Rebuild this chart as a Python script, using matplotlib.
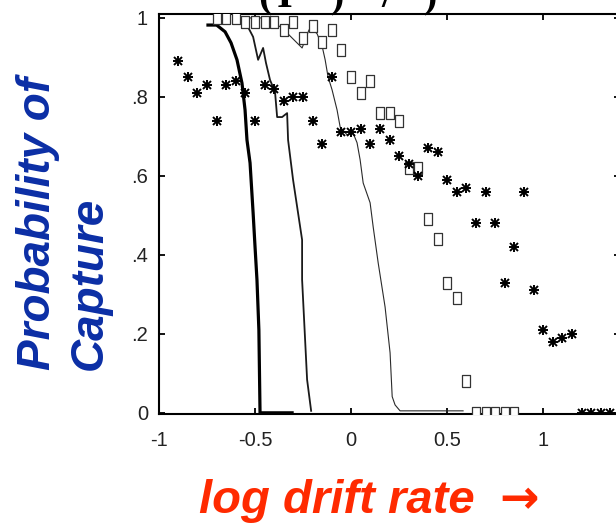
import numpy as np
import matplotlib
matplotlib.use("Agg")
import matplotlib.pyplot as plt

# capture probability vs log drift rate
ast_x = [-0.90, -0.85, -0.80, -0.75, -0.70, -0.65, -0.60, -0.55, -0.50, -0.45,
         -0.40, -0.35, -0.30, -0.25, -0.20, -0.15, -0.10, -0.05, 0.00, 0.05,
         0.10, 0.15, 0.20, 0.25, 0.30, 0.35, 0.40, 0.45, 0.50, 0.55,
         0.60, 0.65, 0.70, 0.75, 0.80, 0.85, 0.90, 0.95, 1.00, 1.05,
         1.10, 1.15, 1.20, 1.25, 1.30, 1.35]
ast_y = [0.89, 0.85, 0.81, 0.83, 0.74, 0.83, 0.84, 0.81, 0.74, 0.83,
         0.82, 0.79, 0.80, 0.80, 0.74, 0.68, 0.85, 0.71, 0.71, 0.72,
         0.68, 0.72, 0.69, 0.65, 0.63, 0.60, 0.67, 0.66, 0.59, 0.56,
         0.57, 0.48, 0.56, 0.48, 0.33, 0.42, 0.56, 0.31, 0.21, 0.18,
         0.19, 0.20, 0.0, 0.0, 0.0, 0.0]

sq_x = [-0.70, -0.65, -0.60, -0.55, -0.50, -0.45, -0.40, -0.35, -0.30, -0.25,
        -0.20, -0.15, -0.10, -0.05, 0.00, 0.05, 0.10, 0.15, 0.20, 0.25,
        0.30, 0.35, 0.40, 0.45, 0.50, 0.55, 0.60, 0.65, 0.70, 0.75,
        0.80, 0.85]
sq_y = [1.0, 1.0, 1.0, 0.99, 0.99, 0.99, 0.99, 0.97, 0.99, 0.95,
        0.98, 0.94, 0.97, 0.92, 0.85, 0.81, 0.84, 0.76, 0.76, 0.74,
        0.62, 0.62, 0.49, 0.44, 0.33, 0.29, 0.08, 0.0, 0.0, 0.0,
        0.0, 0.0]

# model curves
thick_x = [-0.745, -0.70, -0.656, -0.625, -0.594, -0.568, -0.552, -0.542,
           -0.526, -0.51, -0.50, -0.49, -0.48, -0.474, -0.307]
thick_y = [0.982, 0.982, 0.965, 0.937, 0.894, 0.835, 0.767, 0.691,
           0.633, 0.506, 0.420, 0.337, 0.21, 0.0, 0.0]

mid_x = [-0.57, -0.542, -0.51, -0.484, -0.458, -0.443, -0.422, -0.396, -0.385,
         -0.359, -0.333, -0.328, -0.302, -0.276, -0.255, -0.255, -0.229, -0.208]
mid_y = [1.0, 0.982, 0.952, 0.894, 0.924, 0.886, 0.843, 0.813, 0.749,
         0.749, 0.759, 0.691, 0.59, 0.506, 0.438, 0.337, 0.084, 0.005]

thin_x = [-0.58, -0.432, -0.354, -0.255, -0.219, -0.198, -0.177, -0.151, -0.135,
          -0.12, -0.099, -0.073, -0.057, -0.021, 0.010, 0.031, 0.047, 0.063,
          0.099, 0.115, 0.141, 0.177, 0.203, 0.214, 0.229, 0.255, 0.583]
thin_y = [1.0, 1.0, 0.972, 0.924, 0.970, 0.970, 0.960, 0.929, 0.894,
          0.851, 0.818, 0.767, 0.724, 0.704, 0.709, 0.684, 0.641, 0.582,
          0.532, 0.471, 0.380, 0.268, 0.152, 0.041, 0.020, 0.005, 0.005]

xticks = [-1, -0.5, 0, 0.5, 1]
xtick_labels = ['-1', '-0.5', '0', '0.5', '1']
yticks = [0, 0.2, 0.4, 0.6, 0.8, 1.0]
ytick_labels = ['0', '.2', '.4', '.6', '.8', '1']

W, H = 616, 526
fig = plt.figure(figsize=(W / 100, H / 100), dpi=100)
ax = fig.add_axes([159 / W, 112 / H, 461 / W, 400 / H])

ax.plot(thick_x, thick_y, color='black', lw=2.3, solid_joinstyle='round')
ax.plot(mid_x, mid_y, color='#1a1a1a', lw=1.3)
ax.plot(thin_x, thin_y, color='#2a2a2a', lw=0.8)

box = [(-0.4, -0.5), (0.4, -0.5), (0.4, 0.5), (-0.4, 0.5), (-0.4, -0.5)]
ax.plot(sq_x, sq_y, ls='none', marker=box, ms=8, mfc='white',
        mec='#333333', mew=0.9, zorder=3)
# asterisks: plus and cross laid over each other
ax.plot(ast_x, ast_y, ls='none', marker='+', ms=7, color='black',
        mew=1.4, zorder=4)
ax.plot(ast_x, ast_y, ls='none', marker='x', ms=5.5, color='black',
        mew=1.4, zorder=4)

ax.set_xlim(-1, 1.4)
ax.set_ylim(-0.003, 1.01)
ax.set_xticks(xticks)
ax.set_xticklabels(xtick_labels)
ax.set_yticks(yticks)
ax.set_yticklabels(ytick_labels)
ax.tick_params(direction='in', length=4, width=1.3, top=True, right=True,
               labelsize=14.5, labelcolor='#222222')
ax.tick_params(axis='x', pad=12)
ax.tick_params(axis='y', pad=8)
for lab in ax.get_xticklabels() + ax.get_yticklabels():
    lab.set_family('Liberation Sans')
for sp in ax.spines.values():
    sp.set_linewidth(1.5)

# heading, mostly above the top edge
base = 1 - 7 / H
for ch, px in [('(', 258), ('I', 277), (')', 331), ('/', 381), (')', 424)]:
    fig.text(px / W, base, ch, fontsize=29, family='Liberation Serif',
             weight='bold', va='baseline', ha='left', color='black')

fig.text(64 / W, 1 - 224 / H, 'Probability of\nCapture', rotation=90,
         ha='center', va='center', multialignment='left', linespacing=1.25,
         fontsize=33, weight='bold', style='italic', color='#0b2ea5',
         family=['Liberation Sans', 'DejaVu Sans'])
fig.text(199 / W, 1 - 513 / H, 'log drift rate', ha='left',
         va='baseline', fontsize=34, weight='bold', style='italic',
         color='#ff2a00', family='Liberation Sans')
fig.text(499 / W, 1 - 513 / H, '\u2192', ha='left', va='baseline',
         fontsize=34, weight='bold', color='#ff2a00', family='DejaVu Sans')

fig.savefig('out.png', dpi=100)
